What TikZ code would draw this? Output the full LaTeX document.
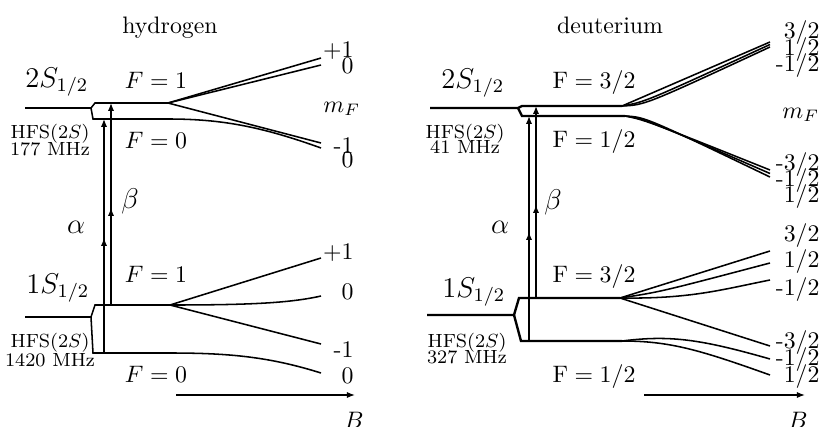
\documentclass[tikz,border=0pt]{standalone}
\usepackage{tikz}
\usetikzlibrary{arrows.meta}
\tikzset{
  level/.style={line width=0.65pt},
  dlevel/.style={line width=1pt},
  trans/.style={-{Latex[length=3.3pt,width=2.6pt]}, line width=0.55pt},
  axis/.style={-{Latex[length=3.4pt,width=2.6pt]}, line width=0.6pt},
  txt/.style={inner sep=0pt, anchor=base},
  state/.style={inner sep=0pt, anchor=base west, font=\large},
  hfs/.style={inner sep=0pt, anchor=base, font=\footnotesize},
  mval/.style={inner sep=0pt, anchor=east},
  greek/.style={inner sep=0pt, anchor=base, font=\large}
}

\begin{document}
\begin{tikzpicture}[x=0.42pt, y=-0.42pt]
  \useasboundingbox (0,0) rectangle (823,427);

  % hydrogen
  \node[txt] (htitle) at (170,33) {hydrogen};
  \node[state] (h2s) at (25,87) {$2S_{1/2}$};
  \node[state] (h1s) at (26,293) {$1S_{1/2}$};
  \node[hfs] (h2hfs) at (50,138) {HFS(2$S$)};
  \node[hfs] (h2mhz) at (50,155) {177 MHz};
  \node[hfs] (h1hfs) at (50,347) {HFS(2$S$)};
  \node[hfs] (h1mhz) at (50,366) {1420 MHz};
  \node[txt] (h2f1) at (156,88) {$F=1$};
  \node[txt] (h2f0) at (156,148) {$F=0$};
  \node[txt] (h1f1) at (156,282) {$F=1$};
  \node[txt] (h1f0) at (156,382) {$F=0$};
  \node[greek] (halpha) at (76,233) {$\alpha$};
  \node[greek] (hbeta) at (130,208) {$\beta$};
  \node[txt, anchor=base west] (hmf) at (323,112) {$m_F$};
  \node[mval] (h2p1) at (354,51) {+1};
  \node[mval] (h2z1) at (354,66) {0};
  \node[mval] (h2m1) at (354,146) {-1};
  \node[mval] (h2z0) at (354,160) {0};
  \node[mval] (h1p1) at (354,253) {+1};
  \node[mval] (h1z1) at (354,292) {0};
  \node[mval] (h1m1) at (354,350) {-1};
  \node[mval] (h1z0) at (354,376) {0};
  \node[txt] (hB) at (354,428) {$B$};

  \coordinate (h2in) at (25,108);
  \coordinate (h2k) at (91,108);
  \coordinate (h2u) at (95,103);
  \coordinate (h2l) at (93,119);
  \coordinate (h2us) at (168,103);
  \coordinate (h2ls) at (168,119);
  \draw[level] (h2in) -- (h2k) -- (h2u) -- (h2us);
  \draw[level] (h2k) -- (h2l) -- (h2ls);
  \draw[level] (h2us) -- (321,58);
  \draw[level] (h2us) -- (321,65);
  \draw[level] (h2us) -- (321,143);
  \draw[level] (h2ls) .. controls (220,119) and (260,126) .. (321,148);

  \coordinate (h1in) at (25,317);
  \coordinate (h1k) at (91,317);
  \coordinate (h1u) at (95,305);
  \coordinate (h1l) at (93,353);
  \coordinate (h1us) at (170,305);
  \coordinate (h1ls) at (170,353);
  \draw[level] (h1in) -- (h1k) -- (h1u) -- (h1us);
  \draw[level] (h1k) -- (h1l) -- (h1ls);
  \draw[level] (h1us) -- (321,258);
  \draw[level] (h1us) .. controls (250,305) and (290,303) .. (321,296);
  \draw[level] (h1us) -- (321,344);
  \draw[level] (h1ls) .. controls (230,353) and (270,357) .. (321,373);

  \coordinate (ha1) at (104,353);
  \coordinate (ham) at (104,238);
  \coordinate (ha2) at (104,119);
  \coordinate (hb1) at (111,305);
  \coordinate (hbm) at (111,208);
  \coordinate (hb2) at (111,103);
  \draw[trans] (ha1) -- (ha2);
  \draw[trans] (ha1) -- (ham);
  \draw[trans] (hb1) -- (hb2);
  \draw[trans] (hb1) -- (hbm);

  \coordinate (hax0) at (176,395);
  \coordinate (hax1) at (355,395);
  \draw[axis] (hax0) -- (hax1);

  % deuterium
  \node[txt] (dtitle) at (610,33) {deuterium};
  \node[state] (d2s) at (441,88) {$2S_{1/2}$};
  \node[state] (d1s) at (442,297) {$1S_{1/2}$};
  \node[hfs] (d2hfs) at (465,138) {HFS(2$S$)};
  \node[hfs] (d2mhz) at (465,153) {41 MHz};
  \node[hfs] (d1hfs) at (467,347) {HFS(2$S$)};
  \node[hfs] (d1mhz) at (467,363) {327 MHz};
  \node[txt] (d2f3) at (594,88) {$\mathrm{F}=3/2$};
  \node[txt] (d2f1) at (594,147) {$\mathrm{F}=1/2$};
  \node[txt] (d1f3) at (594,282) {$\mathrm{F}=3/2$};
  \node[txt] (d1f1) at (594,382) {$\mathrm{F}=1/2$};
  \node[greek] (dalpha) at (500,233) {$\alpha$};
  \node[greek] (dbeta) at (553,209) {$\beta$};
  \node[txt, anchor=base west] (dmf) at (782,118) {$m_F$};
  \node[mval] (d2a) at (820,33) {3/2};
  \node[mval] (d2b) at (820,50) {1/2};
  \node[mval] (d2c) at (820,66) {-1/2};
  \node[mval] (d2d) at (820,165) {-3/2};
  \node[mval] (d2e) at (820,181) {-1/2};
  \node[mval] (d2f) at (820,197) {1/2};
  \node[mval] (d1a) at (820,236) {3/2};
  \node[mval] (d1b) at (820,262) {1/2};
  \node[mval] (d1c) at (820,290) {-1/2};
  \node[mval] (d1d) at (820,343) {-3/2};
  \node[mval] (d1e) at (820,360) {-1/2};
  \node[mval] (d1f) at (820,377) {1/2};
  \node[txt] (dB) at (798,428) {$B$};

  \coordinate (d2in) at (430,108);
  \coordinate (d2k) at (518,108);
  \coordinate (d2u) at (522,106);
  \coordinate (d2l) at (522,116);
  \coordinate (d2us) at (622,106);
  \coordinate (d2ls) at (625,116);
  \draw[dlevel] (d2in) -- (d2k) -- (d2u) -- (d2us);
  \draw[dlevel] (d2k) -- (d2l) -- (d2ls);
  \draw[level] (d2us) -- (770,42);
  \draw[level] (d2us) .. controls (645,102) .. (770,44.5);
  \draw[level] (d2us) .. controls (645,105) .. (770,47);
  \draw[level] (d2ls) .. controls (645,120) .. (770,170);
  \draw[level] (d2ls) .. controls (645,119) .. (770,173.5);
  \draw[level] (d2ls) .. controls (645,117) .. (770,177);

  \coordinate (d1in) at (427,315);
  \coordinate (d1k) at (514,315);
  \coordinate (d1u) at (519,298);
  \coordinate (d1l) at (521,341);
  \coordinate (d1us) at (620,298);
  \coordinate (d1ls) at (622,341);
  \draw[dlevel] (d1in) -- (d1k) -- (d1u) -- (d1us);
  \draw[dlevel] (d1k) -- (d1l) -- (d1ls);
  \draw[level] (d1us) -- (770,251);
  \draw[level] (d1us) .. controls (660,292) .. (770,263);
  \draw[level] (d1us) .. controls (690,299) and (720,290) .. (770,280);
  \draw[level] (d1us) -- (770,346);
  \draw[level] (d1ls) .. controls (670,335) and (700,339) .. (770,359);
  \draw[level] (d1ls) .. controls (670,341) and (700,350) .. (770,375);

  \coordinate (da1) at (529,341);
  \coordinate (dam) at (529,232);
  \coordinate (da2) at (529,116);
  \coordinate (db1) at (536,298);
  \coordinate (dbm) at (536,205);
  \coordinate (db2) at (536,106);
  \draw[trans] (da1) -- (da2);
  \draw[trans] (da1) -- (dam);
  \draw[trans] (db1) -- (db2);
  \draw[trans] (db1) -- (dbm);

  \coordinate (dax0) at (644,395);
  \coordinate (dax1) at (805,395);
  \draw[axis] (dax0) -- (dax1);
\end{tikzpicture}
\end{document}
